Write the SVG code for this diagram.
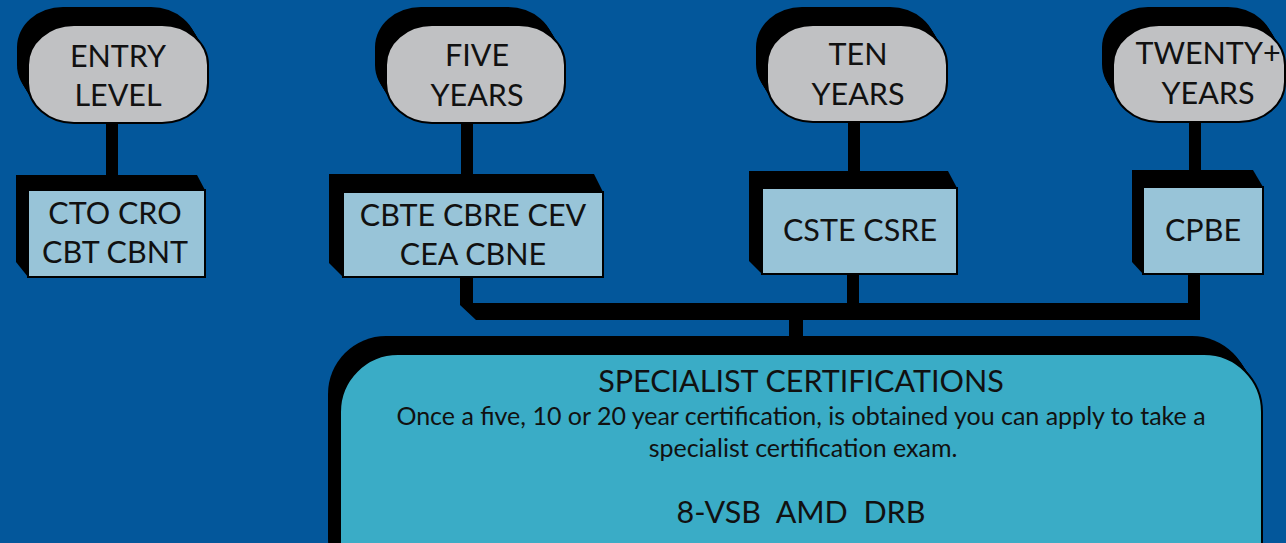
<svg xmlns="http://www.w3.org/2000/svg" width="1286" height="543" viewBox="0 0 1286 543">
<defs>
<style>
.bg{fill:#03579b}
.ext{fill:#000}
.pill{fill:#c0c1c3;stroke:#000;stroke-width:2}
.box{fill:#98c4d8;stroke:#000;stroke-width:2}
.big{fill:#3aacc6;stroke:#000;stroke-width:2}
.conn{fill:#000}
text{font-family:Lato,"Liberation Sans",sans-serif;fill:#111;text-anchor:middle}
.t{font-size:30.5px}
.h{font-size:30.5px}
.b{font-size:25px}
</style>
<rect id="p1" width="180" height="98" rx="46" ry="40"/>
<rect id="p2" width="179" height="98" rx="46" ry="40"/>
<rect id="p3" width="180" height="97" rx="46" ry="40"/>
<rect id="p4" width="172" height="97" rx="46" ry="40"/>
<rect id="bb" width="922" height="260" rx="58" ry="58"/>
</defs>
<rect class="bg" x="0" y="0" width="1286" height="543"/>
<g id="connectors">
<rect class="conn" x="106" y="122" width="12" height="70"/>
<rect class="conn" x="461" y="122" width="12" height="55"/>
<rect class="conn" x="848" y="121" width="12" height="52"/>
<rect class="conn" x="1189" y="121" width="12" height="51"/>
<polygon class="conn" points="460,277 473,277 473,303 1188,303 1188,274 1200,274 1200,320 476,320 460,305"/>
<rect class="conn" x="847" y="273" width="12" height="31"/>
<rect class="conn" x="789" y="318" width="14" height="20"/>
</g>
<g id="entry-level" class="ext">
<use href="#p1" x="17" y="7"/><use href="#p1" x="18.4" y="9.2"/><use href="#p1" x="19.8" y="11.5"/><use href="#p1" x="21.1" y="13.8"/>
<use href="#p1" x="22.5" y="16"/><use href="#p1" x="23.9" y="18.2"/><use href="#p1" x="25.2" y="20.5"/><use href="#p1" x="26.6" y="22.8"/>
<use href="#p1" x="28" y="25" class="pill"/>
<text class="t" x="118" y="67">ENTRY</text>
<text class="t" x="118" y="106">LEVEL</text>
</g>
<g id="five-years" class="ext">
<use href="#p2" x="375" y="7"/><use href="#p2" x="376.4" y="9.2"/><use href="#p2" x="377.8" y="11.5"/><use href="#p2" x="379.1" y="13.8"/>
<use href="#p2" x="380.5" y="16"/><use href="#p2" x="381.9" y="18.2"/><use href="#p2" x="383.2" y="20.5"/><use href="#p2" x="384.6" y="22.8"/>
<use href="#p2" x="386" y="25" class="pill"/>
<text class="t" x="477" y="66">FIVE</text>
<text class="t" x="477" y="106">YEARS</text>
</g>
<g id="ten-years" class="ext">
<use href="#p3" x="756" y="7"/><use href="#p3" x="757.4" y="9.2"/><use href="#p3" x="758.8" y="11.5"/><use href="#p3" x="760.1" y="13.8"/>
<use href="#p3" x="761.5" y="16"/><use href="#p3" x="762.9" y="18.2"/><use href="#p3" x="764.2" y="20.5"/><use href="#p3" x="765.6" y="22.8"/>
<use href="#p3" x="767" y="25" class="pill"/>
<text class="t" x="858" y="65">TEN</text>
<text class="t" x="858" y="105">YEARS</text>
</g>
<g id="twenty-years" class="ext">
<use href="#p4" x="1102" y="7"/><use href="#p4" x="1103.4" y="9.2"/><use href="#p4" x="1104.8" y="11.5"/><use href="#p4" x="1106.1" y="13.8"/>
<use href="#p4" x="1107.5" y="16"/><use href="#p4" x="1108.9" y="18.2"/><use href="#p4" x="1110.2" y="20.5"/><use href="#p4" x="1111.6" y="22.8"/>
<use href="#p4" x="1113" y="25" class="pill"/>
<text class="t" x="1208" y="64">TWENTY+</text>
<text class="t" x="1208" y="104">YEARS</text>
</g>
<g id="entry-certs">
<polygon class="ext" points="16,175 197,175 205,190 205,277 28,277 16,262"/>
<rect class="box" x="28" y="190" width="177" height="87"/>
<text class="t" x="115" y="224">CTO CRO</text>
<text class="t" x="115" y="263">CBT CBNT</text>
</g>
<g id="five-certs">
<polygon class="ext" points="329,174 594,174 603,192 603,277 343,277 329,263"/>
<rect class="box" x="343" y="192" width="260" height="85"/>
<text class="t" x="473" y="226">CBTE CBRE CEV</text>
<text class="t" x="473" y="265">CEA CBNE</text>
</g>
<g id="ten-certs">
<polygon class="ext" points="749,171 948,171 957,188 957,274 762,274 749,261"/>
<rect class="box" x="762" y="188" width="195" height="86"/>
<text class="t" x="860" y="241">CSTE CSRE</text>
</g>
<g id="twenty-certs">
<polygon class="ext" points="1132,170 1253,170 1263,187 1263,274 1143,274 1132,262"/>
<rect class="box" x="1143" y="187" width="120" height="87"/>
<text class="t" x="1203" y="241">CPBE</text>
</g>
<g id="specialist" class="ext">
<use href="#bb" x="328" y="336"/><use href="#bb" x="329.5" y="338.2"/><use href="#bb" x="331" y="340.5"/><use href="#bb" x="332.5" y="342.8"/>
<use href="#bb" x="334" y="345"/><use href="#bb" x="335.5" y="347.2"/><use href="#bb" x="337" y="349.5"/><use href="#bb" x="338.5" y="351.8"/>
<use href="#bb" x="340" y="354" class="big"/>
<text class="h" x="801" y="392">SPECIALIST CERTIFICATIONS</text>
<text class="b" x="801" y="425">Once a five, 10 or 20 year certification, is obtained you can apply to take a</text>
<text class="b" x="803" y="457">specialist certification exam.</text>
<text class="h" x="801" y="523" xml:space="preserve">8-VSB  AMD  DRB</text>
</g>
</svg>
